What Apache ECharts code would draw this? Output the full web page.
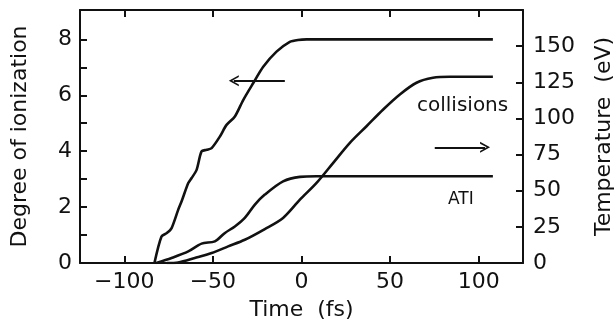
<!DOCTYPE html>
<html>
<head>
<meta charset="utf-8">
<script src="https://cdn.jsdelivr.net/npm/echarts@6/dist/echarts.min.js"></script>
<style>
  html, body { margin: 0; padding: 0; background: #fff; }
  #fig_ionization { width: 616px; height: 322px; }
</style>
</head>
<body>
<div id="fig_ionization"></div>
<script>
// degree of ionization (left axis)
var ionTime = [-83, -79, -76, -73.3, -69.6, -67.7, -63.9, -62, -59.2, -56.4, -53.5, -50.7, -46.1, -42.3, -37.6, -32.9, -27.3, -21.6, -14.1, -6.6, -2, 3, 108];
var ionDegree = [0, 0.95, 1.07, 1.25, 1.9, 2.2, 2.86, 3.04, 3.33, 3.99, 4.05, 4.11, 4.52, 4.94, 5.24, 5.83, 6.43, 7.02, 7.56, 7.91, 7.98, 8.0, 8.0];

// temperature, ATI heating only (right axis)
var atiTime = [-82, -73.3, -63.9, -56.4, -48.9, -43.2, -37.6, -32, -26.3, -20.7, -10.4, -0.9, 8.5, 108];
var atiTemp = [0, 3.5, 8, 13.4, 15, 20.8, 25.3, 31.2, 40.4, 47.3, 56.5, 59.6, 60, 60];

// temperature with collisions (right axis)
var colTime = [-76, -69.6, -60.2, -50.7, -41.4, -32, -20.7, -10.4, -0.9, 8.5, 17.9, 27.3, 36.7, 46.1, 55.5, 64.9, 74.2, 83.6, 108];
var colTemp = [0, 0.4, 3.5, 6.9, 11.5, 16.1, 23.5, 31.2, 43.8, 55.4, 69.3, 83.1, 94.6, 106.2, 116.6, 124.7, 128.1, 128.8, 128.8];

// tick labels
var timeTicks = [-100, -50, 0, 50, 100];
var degreeTicks = [1, 2, 3, 4, 5, 6, 7, 8];
var degreeLabels = [0, 2, 4, 6, 8];
var tempTicks = [25, 50, 75, 100, 125, 150];
var tempLabels = [0, 25, 50, 75, 100, 125, 150];

// arrows pointing to the axis each group belongs to
var ionArrow = [[-9.4, 6.52], [-38.2, 6.52]];
var tempArrow = [[75.2, 80], [103.6, 80]];

function zip(xs, ys) {
    var out = [];
    for (var i = 0; i < xs.length; i++) out.push([xs[i], ys[i]]);
    return out;
}

var FONT = 'DejaVu Sans';
var INK = '#111';
var chevron = 'path://M0,12 L6,0 L12,12 L10,12 L6,4 L2,12 Z';

function arrowLine(pts) {
    return {
        silent: true,
        symbol: ['none', chevron],
        symbolSize: [11, 10],
        label: { show: false },
        lineStyle: { color: INK, width: 2, type: 'solid' },
        emphasis: { disabled: true },
        data: [[{ coord: pts[0] }, { coord: pts[1] }]]
    };
}

var axisLineStyle = { onZero: false, lineStyle: { color: INK, width: 2 } };
var tickStyle = { color: INK, width: 2 };
var labelStyle = { fontFamily: FONT, fontSize: 22, color: INK };

var option = {
    animation: false,
    grid: {
        left: 80, right: 93, top: 10, bottom: 59,
        containLabel: false,
        outerBoundsMode: 'none'
    },
    xAxis: [{
        type: 'value', min: -125, max: 125, position: 'bottom',
        axisLine: axisLineStyle,
        axisTick: { inside: true, length: 7, customValues: timeTicks, lineStyle: tickStyle },
        axisLabel: Object.assign({
            margin: 8,
            customValues: timeTicks,
            formatter: function(v) { return String(v).replace('-', '\u2212'); }
        }, labelStyle),
        splitLine: { show: false },
        name: 'Time  (fs)', nameLocation: 'middle', nameGap: 36,
        nameTextStyle: labelStyle
    }, {
        type: 'value', min: -125, max: 125, position: 'top',
        axisLine: axisLineStyle,
        axisTick: { inside: true, length: 7, customValues: timeTicks, lineStyle: tickStyle },
        axisLabel: { show: false },
        splitLine: { show: false }
    }],
    yAxis: [{
        type: 'value', min: 0, max: 9.05, position: 'left',
        axisLine: axisLineStyle,
        axisTick: { inside: true, length: 7, customValues: degreeTicks, lineStyle: tickStyle },
        axisLabel: Object.assign({ margin: 8, customValues: degreeLabels }, labelStyle),
        splitLine: { show: false },
        name: 'Degree of ionization', nameLocation: 'middle', nameGap: 49,
        nameTextStyle: labelStyle
    }, {
        type: 'value', min: 0, max: 175, position: 'right',
        axisLine: axisLineStyle,
        axisTick: { inside: true, length: 7, customValues: tempTicks, lineStyle: tickStyle },
        axisLabel: Object.assign({ margin: 10, customValues: tempLabels }, labelStyle),
        splitLine: { show: false },
        name: 'Temperature  (eV)', nameLocation: 'middle', nameGap: 70,
        nameTextStyle: labelStyle
    }],
    series: [{
        name: 'ionization', type: 'line', yAxisIndex: 0,
        data: zip(ionTime, ionDegree),
        smooth: 0.25, showSymbol: false,
        lineStyle: { color: INK, width: 2.6 },
        markLine: arrowLine(ionArrow)
    }, {
        name: 'ATI', type: 'line', yAxisIndex: 1,
        data: zip(atiTime, atiTemp),
        smooth: 0.3, showSymbol: false,
        lineStyle: { color: INK, width: 2.6 }
    }, {
        name: 'collisions', type: 'line', yAxisIndex: 1,
        data: zip(colTime, colTemp),
        smooth: 0.3, showSymbol: false,
        lineStyle: { color: INK, width: 2.6 },
        markLine: arrowLine(tempArrow)
    }],
    graphic: [{
        type: 'text', left: 417, top: 96,
        style: { text: 'collisions', fontFamily: FONT, fontSize: 20, fill: INK }
    }, {
        type: 'text', left: 448, top: 191,
        style: { text: 'ATI', fontFamily: FONT, fontSize: 17, fill: INK }
    }]
};

var chart = echarts.init(document.getElementById('fig_ionization'));
chart.setOption(option);
</script>
</body>
</html>
